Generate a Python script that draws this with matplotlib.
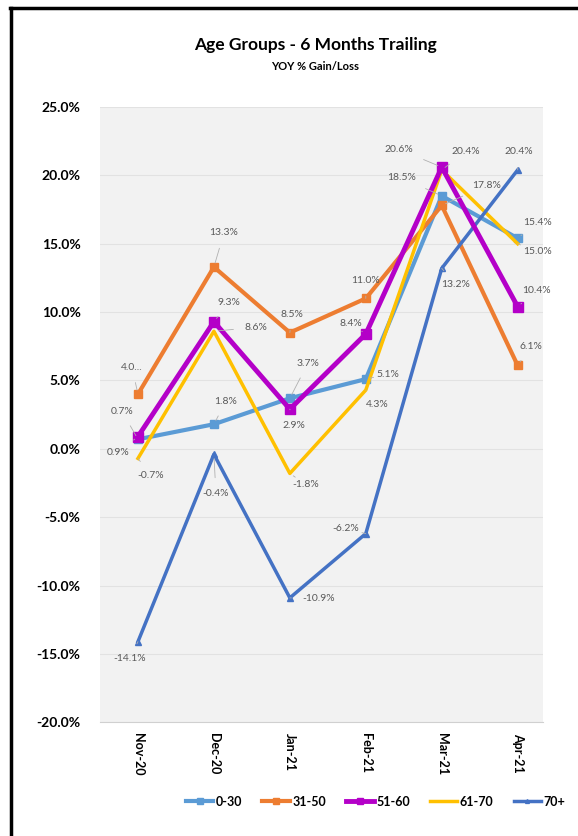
import matplotlib.pyplot as plt
from matplotlib.lines import Line2D
from matplotlib.ticker import FuncFormatter

plt.rcParams['font.family'] = ['Lato', 'DejaVu Sans']

months = ['Nov-20', 'Dec-20', 'Jan-21', 'Feb-21', 'Mar-21', 'Apr-21']
groups = ['0-30', '31-50', '51-60', '61-70', '70+']

g_0_30 = [0.7, 1.8, 3.7, 5.1, 18.5, 15.4]
g_31_50 = [4.0, 13.3, 8.5, 11.0, 17.8, 6.1]
g_51_60 = [0.9, 9.3, 2.9, 8.4, 20.6, 10.4]
g_61_70 = [-0.7, 8.6, -1.8, 4.3, 20.4, 15.0]
g_70_plus = [-14.1, -0.4, -10.9, -6.2, 13.2, 20.4]

series = [g_0_30, g_31_50, g_51_60, g_61_70, g_70_plus]
colors = ['#5B9BD5', '#ED7D31', '#B400C8', '#FFC000', '#4472C4']
markers = ['s', 's', 's', None, '^']
msizes = [6, 6, 7, 0, 4]
lws = [3, 3, 3.5, 2.5, 2.5]

# label offsets in pixels (dx, dy) for each point, per series
offsets = [
    [(-16, 28), (12, 23), (18, 35), (22, 5), (-40, 18), (20, 16)],
    [(-6, 27), (10, 34), (2, 18), (0, 18), (45, 20), (13, 19)],
    [(-20, -16), (15, 19), (4, -16), (-15, 10), (-43, 18), (19, 16)],
    [(13, -17), (42, 4), (16, -11), (12, -14), (24, 18), (20, -8)],
    [(-8, -17), (2, -39), (29, -1), (-20, 5), (14, -16), (1, 18)],
]

fig = plt.figure(figsize=(5.78, 8.36), dpi=100)
ax = fig.add_axes([0.173, 0.136, 0.766, 0.736])
ax.set_facecolor('#f2f2f2')

x = list(range(len(months)))
for i, (vals, name) in enumerate(zip(series, groups)):
    ax.plot(x, vals, color=colors[i], lw=lws[i], marker=markers[i],
            markersize=msizes[i], label=name, zorder=3 + (i == 2))
    for j, v in enumerate(vals):
        lab = '4.0...' if (i == 1 and j == 0) else f'{v:.1f}%'
        ax.annotate(lab, (j, v), xytext=offsets[i][j], textcoords='offset pixels',
                    ha='center', va='center', fontsize=7.5, color='#595959',
                    arrowprops=dict(arrowstyle='-', color='#b0b0b0', lw=0.6,
                                    shrinkA=6, shrinkB=3),
                    zorder=6)

ax.set_xlim(-0.5, 5.33)
ax.set_ylim(-20, 25)
ax.set_yticks(range(-20, 26, 5))
ax.yaxis.set_major_formatter(FuncFormatter(lambda v, p: f'{v:.1f}%'))
ax.set_xticks(x)
ax.set_xticklabels(months, rotation=270, fontweight='bold', fontsize=9)
for t in ax.get_yticklabels():
    t.set_fontweight('bold')
    t.set_fontsize(10)
ax.tick_params(length=0, pad=14)
ax.tick_params(axis='x', pad=8)
ax.grid(axis='y', color='#e2e2e2', lw=0.8)
ax.set_axisbelow(True)
for s in ['top', 'right', 'left']:
    ax.spines[s].set_visible(False)
ax.spines['bottom'].set_color('#d0d0d0')

fig.text(0.545, 0.946, 'Age Groups - 6 Months Trailing', ha='center',
         va='center', fontsize=12.5, fontweight='bold')
fig.text(0.545, 0.921, 'YOY % Gain/Loss', ha='center', va='center',
         fontsize=8, fontweight='bold')

fig.legend(loc='center', bbox_to_anchor=(0.65, 0.041), ncol=5, frameon=False,
           prop={'weight': 'bold', 'size': 9}, handlelength=2.2,
           handletextpad=0.2, columnspacing=1.6, markerscale=0.7)

# frame lines on the left and top
fig.add_artist(Line2D([0.019, 0.019], [0, 0.991], color='black', lw=2.5,
                      transform=fig.transFigure))
fig.add_artist(Line2D([0.017, 1], [0.991, 0.991], color='black', lw=2.5,
                      transform=fig.transFigure))

fig.savefig('out.png', dpi=100)
